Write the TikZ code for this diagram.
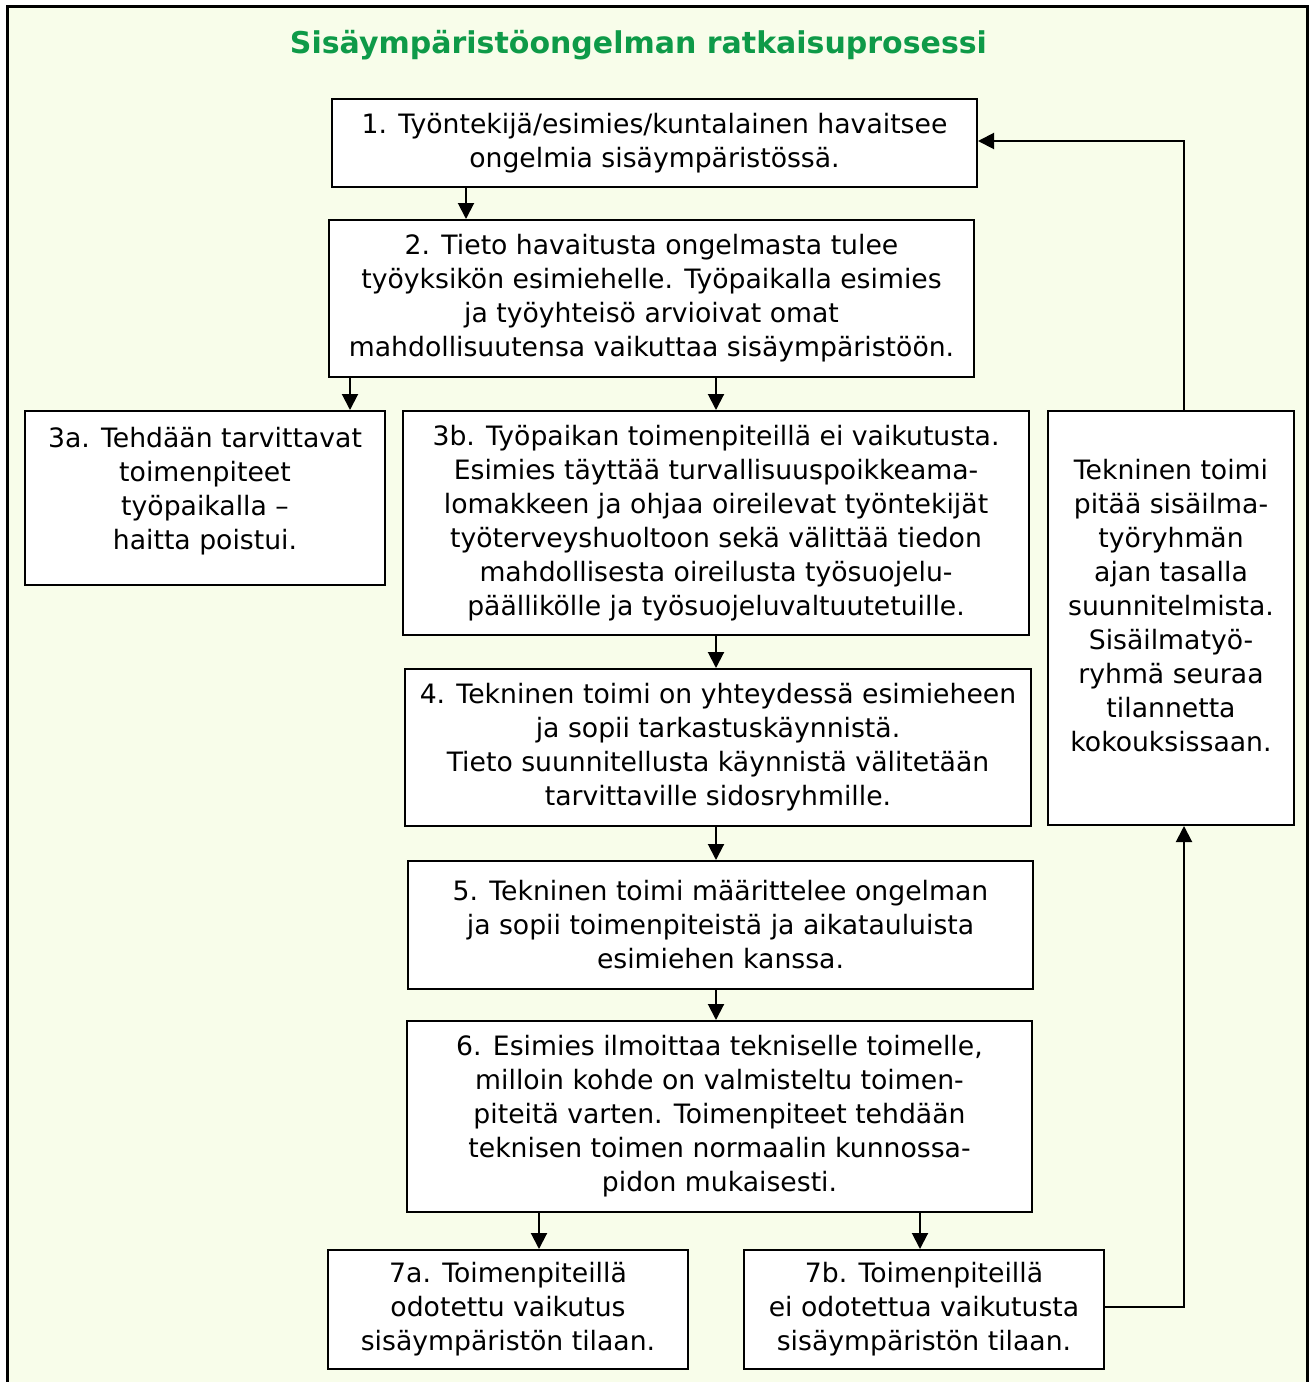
\documentclass[tikz,border=0pt]{standalone}
\usepackage{fontspec}
\setmainfont{DejaVu Sans}
\usetikzlibrary{arrows.meta}
\definecolor{bgc}{RGB}{248,253,234}
\definecolor{titlec}{RGB}{14,154,72}
\tikzset{
  box/.style={draw=black, line width=1.5pt, fill=white, inner sep=0pt, align=center,
    font=\fontsize{20}{25.5}\selectfont},
  txt/.style={inner sep=0pt, align=center, font=\fontsize{20}{25.5}\selectfont},
  arr/.style={line width=1.5pt, -{Triangle[length=12pt,width=12pt]}},
  line/.style={line width=1.5pt}
}
\begin{document}
\begin{tikzpicture}[x=0.75pt,y=-0.75pt]
\useasboundingbox (0,0) rectangle (1311,1382);
\clip (0,0) rectangle (1311,1382);
\fill[white] (0,0) rectangle (1311,1382);
\draw[line width=2.25pt, fill=bgc] (7,6) rectangle (1307,1400);
\node[font=\fontsize{22.5}{27}\selectfont\bfseries, text=titlec] (title) at (638.5,45) {Sisäympäristöongelman ratkaisuprosessi};

\node[box, minimum width=483.75pt, minimum height=66pt] (b1) at (654.5,143)
  {1. Työntekijä/esimies/kuntalainen havaitsee\\ongelmia sisäympäristössä.};
\node[box, minimum width=483.75pt, minimum height=117.75pt] (b2) at (651.5,298.5)
  {2. Tieto havaitusta ongelmasta tulee\\työyksikön esimiehelle. Työpaikalla esimies\\ja työyhteisö arvioivat omat\\mahdollisuutensa vaikuttaa sisäympäristöön.};
\node[box, minimum width=270pt, minimum height=130.5pt] (b3a) at (205,498) {};
\node[txt] (t3a) at (205,491)
  {3a. Tehdään tarvittavat\\toimenpiteet\\työpaikalla –\\haitta poistui.};
\node[box, minimum width=469.5pt, minimum height=168pt] (b3b) at (716,523)
  {3b. Työpaikan toimenpiteillä ei vaikutusta.\\Esimies täyttää turvallisuuspoikkeama-\\lomakkeen ja ohjaa oireilevat työntekijät\\työterveyshuoltoon sekä välittää tiedon\\mahdollisesta oireilusta työsuojelu-\\päällikölle ja työsuojeluvaltuutetuille.};
\node[box, minimum width=184.5pt, minimum height=310.5pt] (bR) at (1171,618) {};
\node[txt] (tR) at (1171,606)
  {Tekninen toimi\\pitää sisäilma-\\työryhmän\\ajan tasalla\\suunnitelmista.\\Sisäilmatyö-\\ryhmä seuraa\\tilannetta\\kokouksissaan.};
\node[box, minimum width=469.5pt, minimum height=117.75pt] (b4) at (718,747.5)
  {4. Tekninen toimi on yhteydessä esimieheen\\ja sopii tarkastuskäynnistä.\\Tieto suunnitellusta käynnistä välitetään\\tarvittaville sidosryhmille.};
\node[box, minimum width=468.75pt, minimum height=96pt] (b5) at (720.5,925)
  {5. Tekninen toimi määrittelee ongelman\\ja sopii toimenpiteistä ja aikatauluista\\esimiehen kanssa.};
\node[box, minimum width=468.75pt, minimum height=143.25pt] (b6) at (719.5,1116.5)
  {6. Esimies ilmoittaa tekniselle toimelle,\\milloin kohde on valmisteltu toimen-\\piteitä varten. Toimenpiteet tehdään\\teknisen toimen normaalin kunnossa-\\pidon mukaisesti.};
\node[box, minimum width=270pt, minimum height=89.25pt] (b7a) at (508,1309.5)
  {7a. Toimenpiteillä\\odotettu vaikutus\\sisäympäristön tilaan.};
\node[box, minimum width=270pt, minimum height=89.25pt] (b7b) at (924,1309.5)
  {7b. Toimenpiteillä\\ei odotettua vaikutusta\\sisäympäristön tilaan.};

\coordinate (x1) at (466,0);
\coordinate (x3a) at (350,0);
\coordinate (xm) at (716,0);
\coordinate (x7a) at (539,0);
\coordinate (x7b) at (920,0);
\coordinate (xr) at (1184,0);
\coordinate (y1) at (0,141);
\coordinate (y7) at (0,1307);

\draw[arr] (b1.south -| x1) -- (b2.north -| x1);
\draw[arr] (b2.south -| x3a) -- (b3a.north -| x3a);
\draw[arr] (b2.south -| xm) -- (b3b.north -| xm);
\draw[arr] (b3b.south -| xm) -- (b4.north -| xm);
\draw[arr] (b4.south -| xm) -- (b5.north -| xm);
\draw[arr] (b5.south -| xm) -- (b6.north -| xm);
\draw[arr] (b6.south -| x7a) -- (b7a.north -| x7a);
\draw[arr] (b6.south -| x7b) -- (b7b.north -| x7b);
\draw[arr] (b7b.east |- y7) -- (xr |- y7) -- (bR.south -| xr);
\draw[arr] (bR.north -| xr) -- (xr |- y1) -- (b1.east |- y1);
\end{tikzpicture}
\end{document}
